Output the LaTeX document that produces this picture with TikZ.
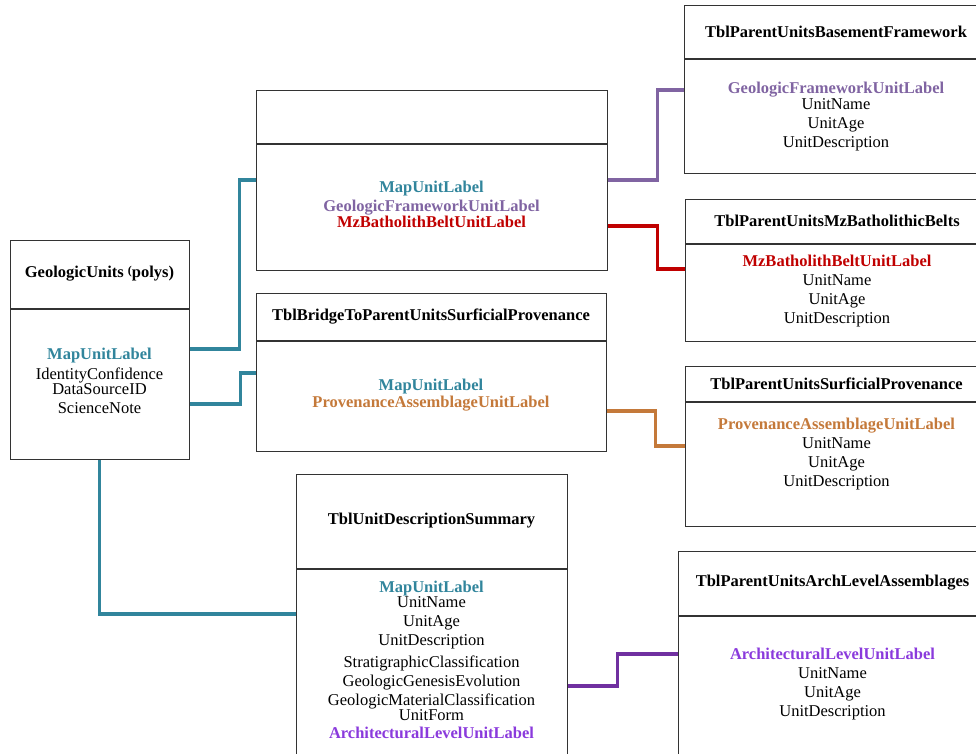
\documentclass[tikz,border=0pt]{standalone}
\usepackage{fontspec}
\setmainfont{Liberation Serif}
\definecolor{mapteal}{RGB}{49,133,156}
\definecolor{frmpurple}{RGB}{128,100,162}
\definecolor{beltred}{RGB}{192,0,0}
\definecolor{provorange}{RGB}{196,121,58}
\definecolor{archline}{RGB}{112,48,160}
\definecolor{archtext}{RGB}{138,58,220}

\begin{document}
\begin{tikzpicture}[x=1pt, y=-1pt,
    tbl/.style={draw=black!80, line width=1pt, rectangle, inner sep=0pt},
    title/.style={font=\fontsize{16.5}{19}\selectfont\bfseries},
    fields/.style={align=center, anchor=north, inner sep=0pt, font=\fontsize{16.5}{19}\selectfont},
    link/.style={line width=3.5pt}]
  \useasboundingbox (0,0) rectangle (976,753);

  % GeologicUnits table
  \node[tbl, title, minimum width=179, minimum height=68] (geoH) at (99.5,274)
    {GeologicUnits {\fontsize{12}{12}\selectfont\raisebox{3pt}{(}}polys)};
  \node[tbl, minimum width=179, minimum height=150, anchor=north] (geoB) at (geoH.south) {};
  \node[fields] (geoF) at (99.5,348) {\textcolor{mapteal}{\bfseries MapUnitLabel}\\[1pt]
    IdentityConfidence\\[-4pt] DataSourceID\\ ScienceNote};

  % map unit bridge table (no title)
  \node[tbl, minimum width=351, minimum height=53] (mapH) at (431.5,116.5) {};
  \node[tbl, minimum width=351, minimum height=126, anchor=north] (mapB) at (mapH.south) {};
  \node[fields] (mapF) at (431.5,181) {\textcolor{mapteal}{\bfseries MapUnitLabel}\\
    \textcolor{frmpurple}{\bfseries GeologicFrameworkUnitLabel}\\[-3pt]
    \textcolor{beltred}{\bfseries MzBatholithBeltUnitLabel}};

  % surficial provenance bridge table
  \node[tbl, title, minimum width=350, minimum height=47] (briH) at (431,316.5)
    {TblBridgeToParentUnitsSurficialProvenance};
  \node[tbl, minimum width=350, minimum height=110, anchor=north] (briB) at (briH.south) {};
  \node[fields] (briF) at (431,379) {\textcolor{mapteal}{\bfseries MapUnitLabel}\\[-2pt]
    \textcolor{provorange}{\bfseries ProvenanceAssemblageUnitLabel}};

  % unit description summary
  \node[tbl, title, minimum width=271, minimum height=94] (sumH) at (431.5,521)
    {TblUnitDescriptionSummary};
  \node[tbl, minimum width=271, minimum height=232, anchor=north] (sumB) at (sumH.south) {};
  \node[fields] (sumF) at (431.5,581) {\textcolor{mapteal}{\bfseries MapUnitLabel}\\[-4pt]
    UnitName\\ UnitAge\\ UnitDescription\\[3pt]
    StratigraphicClassification\\ GeologicGenesisEvolution\\
    GeologicMaterialClassification\\[-4pt] UnitForm\\[-1pt]
    \textcolor{archtext}{\bfseries ArchitecturalLevelUnitLabel}};

  % parent unit tables
  \node[tbl, title, minimum width=304, minimum height=53] (bsmH) at (836,31.5)
    {TblParentUnitsBasementFramework};
  \node[tbl, minimum width=304, minimum height=114, anchor=north] (bsmB) at (bsmH.south) {};
  \node[fields] (bsmF) at (836,82) {\textcolor{frmpurple}{\bfseries GeologicFrameworkUnitLabel}\\[-3pt]
    UnitName\\ UnitAge\\ UnitDescription};

  \node[tbl, title, minimum width=304, minimum height=44] (mzbH) at (837,221)
    {TblParentUnitsMzBatholithicBelts};
  \node[tbl, minimum width=304, minimum height=97, anchor=north] (mzbB) at (mzbH.south) {};
  \node[fields] (mzbF) at (837,255) {\textcolor{beltred}{\bfseries MzBatholithBeltUnitLabel}\\
    UnitName\\ UnitAge\\ UnitDescription};

  \node[tbl, title, minimum width=303, minimum height=35] (prvH) at (836.5,383.5)
    {TblParentUnitsSurficialProvenance};
  \node[tbl, minimum width=303, minimum height=124, anchor=north] (prvB) at (prvH.south) {};
  \node[fields] (prvF) at (836.5,418) {\textcolor{provorange}{\bfseries ProvenanceAssemblageUnitLabel}\\
    UnitName\\ UnitAge\\ UnitDescription};

  \node[tbl, title, minimum width=309, minimum height=64] (arcH) at (832.5,583)
    {TblParentUnitsArchLevelAssemblages};
  \node[tbl, minimum width=309, minimum height=185, anchor=north] (arcB) at (arcH.south) {};
  \node[fields] (arcF) at (832.5,648) {\textcolor{archtext}{\bfseries ArchitecturalLevelUnitLabel}\\
    UnitName\\ UnitAge\\ UnitDescription};

  % links from GeologicUnits
  \draw[link, mapteal] ([yshift=35]geoB.east) -- ++(50,0) |- ([yshift=27]mapB.west);
  \draw[link, mapteal] ([yshift=-20]geoB.east) -- ++(51,0) |- ([yshift=23]briB.west);
  \draw[link, mapteal] (geoB.south) |- ([yshift=71]sumB.west);

  % links to the parent tables
  \draw[link, frmpurple] ([yshift=27]mapB.east) -- ++(50,0) |- ([yshift=26]bsmB.west);
  \draw[link, beltred] ([yshift=-19]mapB.east) -- ++(50,0) |- ([yshift=23.5]mzbB.west);
  \draw[link, provorange] ([yshift=-15]briB.east) -- ++(49,0) |- ([yshift=18]prvB.west);
  \draw[link, archline] ([yshift=-1]sumB.east) -- ++(50,0) |- ([yshift=54.5]arcB.west);

\end{tikzpicture}
\end{document}
